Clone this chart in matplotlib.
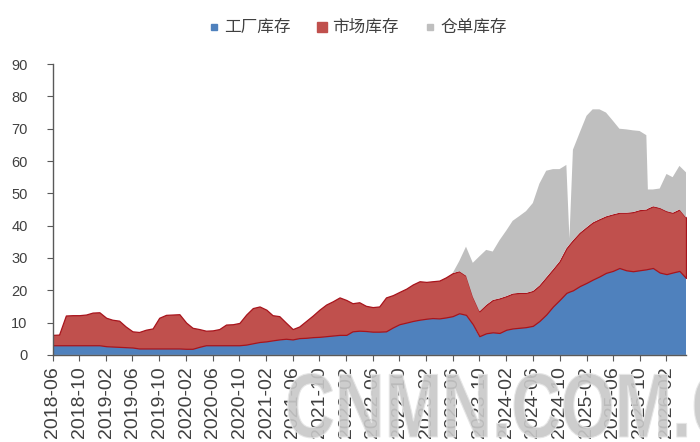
import matplotlib
matplotlib.use("Agg")
import matplotlib.pyplot as plt
import matplotlib.dates as mdates
from matplotlib.lines import Line2D
from matplotlib.patches import PathPatch
from matplotlib.textpath import TextPath
from matplotlib.font_manager import FontProperties
from matplotlib.transforms import Affine2D, IdentityTransform
import pandas as pd

plt.rcParams['font.family'] = ['Liberation Sans', 'Noto Sans CJK SC', 'DejaVu Sans']

# series data (万吨)
dates = [
    '2018-06-01', '2018-07-01', '2018-08-01', '2018-09-01', '2018-10-01', '2018-11-01', '2018-12-01',
    '2019-01-01', '2019-02-01', '2019-03-01', '2019-04-01', '2019-05-01', '2019-06-01',
    '2019-07-01', '2019-08-01', '2019-09-01', '2019-10-01', '2019-11-01', '2019-12-01',
    '2020-01-01', '2020-02-01', '2020-03-01', '2020-04-01', '2020-05-01', '2020-06-01',
    '2020-07-01', '2020-08-01', '2020-09-01', '2020-10-01', '2020-11-01', '2020-12-01',
    '2021-01-01', '2021-02-01', '2021-03-01', '2021-04-01', '2021-05-01', '2021-06-01',
    '2021-07-01', '2021-08-01', '2021-09-01', '2021-10-01', '2021-11-01', '2021-12-01',
    '2022-01-01', '2022-02-01', '2022-03-01', '2022-04-01', '2022-05-01', '2022-06-01',
    '2022-07-01', '2022-08-01', '2022-09-01', '2022-10-01', '2022-11-01', '2022-12-01',
    '2023-01-01', '2023-02-01', '2023-03-01', '2023-04-01', '2023-05-01', '2023-06-01',
    '2023-07-01', '2023-08-01', '2023-09-01', '2023-10-01', '2023-11-01', '2023-12-01',
    '2024-01-01', '2024-02-01', '2024-03-01', '2024-04-01', '2024-05-01', '2024-06-01',
    '2024-07-01', '2024-08-01', '2024-09-01', '2024-10-01', '2024-11-01', '2024-11-15', '2024-12-01',
    '2025-01-01', '2025-02-01', '2025-03-01', '2025-04-01', '2025-05-01', '2025-06-01',
    '2025-07-01', '2025-08-01', '2025-09-01', '2025-10-01', '2025-11-01', '2025-11-08', '2025-12-01',
    '2026-01-01', '2026-02-01', '2026-03-01', '2026-04-01', '2026-05-01',
]

factory = [
    3.0, 3.0, 3.0, 3.0, 3.0, 3.0, 3.0,
    3.0, 2.7, 2.6, 2.5, 2.4, 2.3,
    2.0, 2.0, 2.0, 2.0, 2.0, 2.0,
    2.0, 1.9, 1.9, 2.5, 3.0, 3.0,
    3.0, 3.0, 3.0, 3.0, 3.2, 3.6,
    4.0, 4.2, 4.5, 4.8, 5.0, 4.8,
    5.2, 5.3, 5.5, 5.6, 5.8, 6.0,
    6.2, 6.2, 7.3, 7.5, 7.4, 7.2,
    7.2, 7.3, 8.5, 9.5, 10.0, 10.5,
    10.9, 11.2, 11.4, 11.3, 11.6, 12.0,
    12.9, 12.4, 9.5, 5.8, 6.7, 7.0,
    6.8, 7.8, 8.2, 8.4, 8.6, 9.0,
    10.5, 12.5, 15.0, 17.0, 19.2, 19.6, 20.0,
    21.3, 22.3, 23.3, 24.3, 25.4, 26.0,
    26.9, 26.2, 25.9, 26.2, 26.5, 26.6, 26.9,
    25.5, 25.0, 25.5, 26.0, 23.8,
]

market = [
    3.2, 3.3, 9.2, 9.3, 9.3, 9.5, 10.1,
    10.2, 8.8, 8.3, 8.1, 6.4, 5.0,
    5.1, 5.8, 6.2, 9.5, 10.4, 10.5,
    10.6, 8.1, 6.5, 5.5, 4.5, 4.6,
    5.0, 6.4, 6.5, 6.9, 9.3, 10.9,
    11.0, 9.8, 7.8, 7.2, 5.0, 3.2,
    3.6, 5.2, 6.7, 8.4, 9.8, 10.6,
    11.6, 10.8, 8.7, 8.8, 7.8, 7.6,
    7.8, 10.5, 10.0, 10.0, 10.5, 11.3,
    11.9, 11.4, 11.4, 11.7, 12.4, 13.3,
    13.0, 12.1, 8.5, 7.7, 8.8, 10.0,
    10.7, 10.4, 10.8, 10.8, 10.6, 10.8,
    11.0, 11.5, 11.5, 12.0, 13.8, 14.6, 15.5,
    16.5, 17.2, 17.7, 17.7, 17.5, 17.5,
    17.1, 17.8, 18.3, 18.6, 18.5, 18.7, 19.1,
    20.0, 19.5, 18.5, 19.0, 18.7,
]

warehouse = [
    0, 0, 0, 0, 0, 0, 0,
    0, 0, 0, 0, 0, 0,
    0, 0, 0, 0, 0, 0,
    0, 0, 0, 0, 0, 0,
    0, 0, 0, 0, 0, 0,
    0, 0, 0, 0, 0, 0,
    0, 0, 0, 0, 0, 0,
    0, 0, 0, 0, 0, 0,
    0, 0, 0, 0, 0, 0,
    0, 0, 0, 0, 0, 0,
    3.1, 9.0, 10.5, 17.0, 17.0, 15.0,
    18.0, 20.3, 22.5, 23.8, 25.3, 27.2,
    31.5, 33.0, 31.0, 28.5, 25.8, 1.8, 28.0,
    31.0, 34.5, 35.0, 34.0, 32.1, 29.0,
    26.0, 25.8, 25.3, 24.5, 23.0, 5.9, 5.2,
    6.0, 11.5, 11.0, 13.5, 14.0,
]

labels = ['工厂库存', '市场库存', '仓单库存']
colors = ['#4F81BD', '#C0504D', '#BFBFBF']
watermark = 'CNMN.COM.C'

x = pd.to_datetime(dates)

fig = plt.figure(figsize=(7.0, 4.42), dpi=100)
ax = fig.add_axes([0.075, 0.197, 0.905, 0.658])

polys = ax.stackplot(x, factory, market, warehouse, colors=colors, linewidth=0)
polys[1].set_edgecolor('#A8141C')
polys[1].set_linewidth(0.9)

ax.set_xlim(x[0], x[-1])
ax.set_ylim(0, 90)
ax.set_yticks(range(0, 91, 10))

ax.xaxis.set_major_locator(mdates.MonthLocator(bymonth=[2, 6, 10]))
ax.xaxis.set_major_formatter(mdates.DateFormatter('%Y-%m'))
for lab in ax.get_xticklabels():
    lab.set_rotation(90)

for side in ['top', 'right']:
    ax.spines[side].set_visible(False)
for side in ['left', 'bottom']:
    ax.spines[side].set_color('#595959')
    ax.spines[side].set_linewidth(1.0)

ax.tick_params(axis='y', direction='out', length=4, color='#595959',
               labelsize=10.5, labelcolor='#404040', pad=14)
ax.tick_params(axis='x', direction='out', length=4, color='#595959',
               labelsize=14, labelcolor='#404040', pad=4)

handles = [Line2D([], [], marker='s', linestyle='none', markersize=5,
                  markerfacecolor=c, markeredgecolor=c) for c in colors]
handles[1].set_markersize(6.5)
fig.legend(handles, labels, loc='center', bbox_to_anchor=(0.51, 0.937), ncol=3,
           frameon=False, handletextpad=0.2, columnspacing=1.5, handlelength=0.8,
           prop={'family': ['Noto Sans CJK SC', 'DejaVu Sans'], 'size': 12},
           labelcolor='#404040')

# site watermark, drawn as a stretched outline (narrow, tall letters)
tp = TextPath((0, 0), watermark, size=1,
              prop=FontProperties(family='Liberation Sans', weight='bold'))
wm_tf = Affine2D().scale(69, 91).translate(285, 442 - 437) + IdentityTransform()
fig.patches.append(PathPatch(tp, transform=wm_tf, facecolor='#C8C8C8',
                             edgecolor='#E6E6E6', linewidth=0.8, alpha=0.9,
                             zorder=10))

fig.savefig('out.png', dpi=100)
